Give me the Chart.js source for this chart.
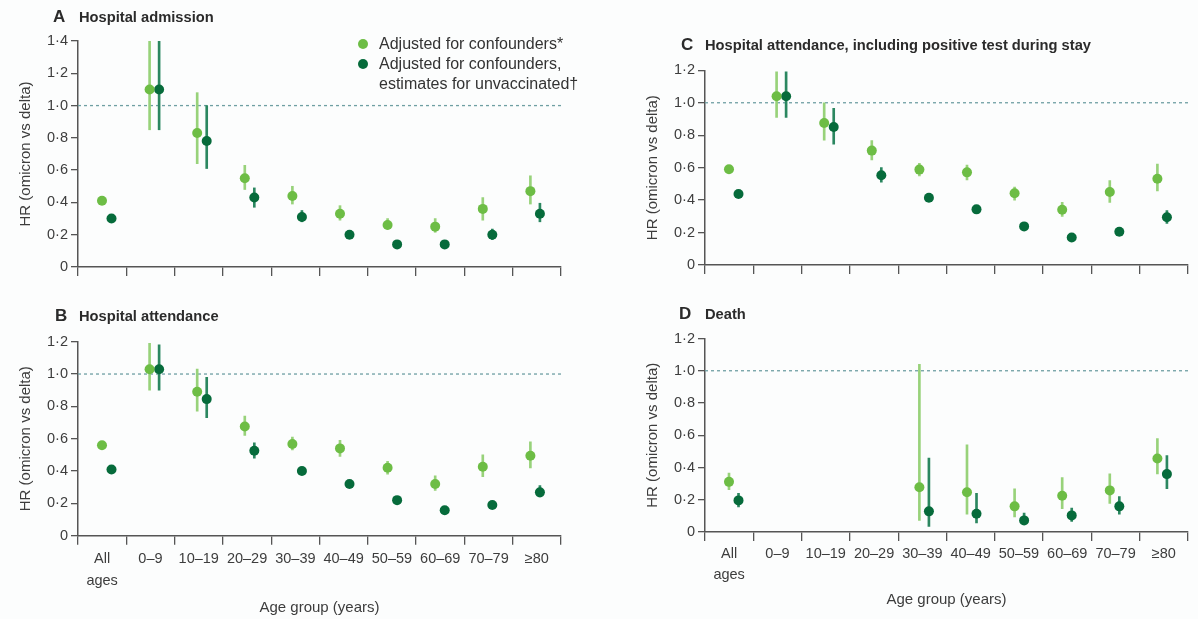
<!DOCTYPE html>
<html>
<head>
<meta charset="utf-8">
<script src="https://cdn.jsdelivr.net/npm/chart.js@4.4.1/dist/chart.umd.min.js"></script>
<style>
  body { margin:0; background:#fcfdfd; font-family:'Liberation Sans', Arial, sans-serif; color:#333; }
  #page { position:relative; width:1198px; height:619px; overflow:hidden; }
  canvas { position:absolute; }
  .txt { position:absolute; white-space:nowrap; line-height:1; }
  .letter { font-weight:bold; font-size:17px; color:#2b2b2b; }
  .title { font-weight:bold; font-size:14.7px; color:#2b2b2b; }
  .leg { font-size:16px; color:#333; }
  .dot { position:absolute; width:10px; height:10px; border-radius:50%; }
</style>
</head>
<body>
<div id="page">
  <canvas id="chartA" width="600" height="300" style="left:0;top:0"></canvas>
  <canvas id="chartB" width="600" height="319" style="left:0;top:300px"></canvas>
  <canvas id="chartC" width="571" height="300" style="left:627px;top:0"></canvas>
  <canvas id="chartD" width="571" height="319" style="left:627px;top:300px"></canvas>

  <div class="txt letter" style="left:53px;top:8.3px">A</div>
  <div class="txt title" style="left:79px;top:10.3px">Hospital admission</div>
  <div class="txt letter" style="left:55px;top:307.3px">B</div>
  <div class="txt title" style="left:79px;top:309.3px">Hospital attendance</div>
  <div class="txt letter" style="left:681px;top:36.1px">C</div>
  <div class="txt title" style="left:705px;top:38.1px">Hospital attendance, including positive test during stay</div>
  <div class="txt letter" style="left:679px;top:304.9px">D</div>
  <div class="txt title" style="left:705px;top:306.9px">Death</div>

  <div class="dot" style="left:358px;top:39.3px;background:#6dbd45"></div>
  <div class="txt leg" style="left:379px;top:35.5px">Adjusted for confounders*</div>
  <div class="dot" style="left:358px;top:59.3px;background:#066b3b"></div>
  <div class="txt leg" style="left:379px;top:55.5px">Adjusted for confounders,</div>
  <div class="txt leg" style="left:379px;top:75.5px">estimates for unvaccinated†</div>
</div>

<script>
// Age groups along the x axis
var ageGroups = [['All', 'ages'], '0–9', '10–19', '20–29', '30–39', '40–49', '50–59', '60–69', '70–79', '≥80'];

// A: hospital admission
var admissionAdj      = [0.41, 1.10, 0.83, 0.55, 0.44, 0.33, 0.26, 0.25, 0.36, 0.47];
var admissionAdjLow   = [0.40, 0.85, 0.64, 0.48, 0.39, 0.29, 0.235, 0.215, 0.29, 0.39];
var admissionAdjHigh  = [0.42, 1.43, 1.08, 0.63, 0.50, 0.38, 0.30, 0.30, 0.43, 0.565];
var admissionUnv      = [0.30, 1.10, 0.78, 0.43, 0.31, 0.20, 0.14, 0.14, 0.20, 0.33];
var admissionUnvLow   = [0.29, 0.85, 0.61, 0.37, 0.28, 0.185, 0.125, 0.125, 0.17, 0.28];
var admissionUnvHigh  = [0.31, 1.45, 1.00, 0.49, 0.35, 0.215, 0.155, 0.155, 0.235, 0.395];

// B: hospital attendance
var attendAdj      = [0.56, 1.03, 0.89, 0.675, 0.567, 0.54, 0.42, 0.32, 0.427, 0.495];
var attendAdjLow   = [0.55, 0.90, 0.77, 0.62, 0.53, 0.49, 0.38, 0.28, 0.365, 0.42];
var attendAdjHigh  = [0.57, 1.19, 1.03, 0.74, 0.61, 0.59, 0.46, 0.37, 0.50, 0.58];
var attendUnv      = [0.41, 1.03, 0.845, 0.525, 0.40, 0.32, 0.22, 0.157, 0.19, 0.268];
var attendUnvLow   = [0.40, 0.90, 0.73, 0.48, 0.38, 0.305, 0.205, 0.145, 0.175, 0.24];
var attendUnvHigh  = [0.42, 1.18, 0.98, 0.575, 0.42, 0.335, 0.235, 0.17, 0.205, 0.31];

// C: hospital attendance, including positive test during stay
var stayAdj      = [0.59, 1.04, 0.875, 0.705, 0.588, 0.571, 0.442, 0.341, 0.45, 0.532];
var stayAdjLow   = [0.58, 0.91, 0.77, 0.647, 0.549, 0.524, 0.40, 0.30, 0.386, 0.456];
var stayAdjHigh  = [0.60, 1.19, 1.00, 0.767, 0.627, 0.616, 0.48, 0.386, 0.52, 0.622];
var stayUnv      = [0.438, 1.04, 0.85, 0.553, 0.415, 0.343, 0.238, 0.17, 0.205, 0.294];
var stayUnvLow   = [0.428, 0.91, 0.745, 0.51, 0.40, 0.33, 0.222, 0.158, 0.192, 0.257];
var stayUnvHigh  = [0.448, 1.19, 0.965, 0.60, 0.43, 0.356, 0.254, 0.182, 0.218, 0.335];

// D: death (no estimates for under 30s)
var deathAdj      = [0.311, null, null, null, 0.278, 0.247, 0.159, 0.225, 0.258, 0.456];
var deathAdjLow   = [0.262, null, null, null, 0.072, 0.111, 0.093, 0.144, 0.177, 0.36];
var deathAdjHigh  = [0.365, null, null, null, 1.04, 0.54, 0.268, 0.338, 0.36, 0.58];
var deathUnv      = [0.196, null, null, null, 0.128, 0.113, 0.072, 0.103, 0.159, 0.359];
var deathUnvLow   = [0.155, null, null, null, 0.035, 0.056, 0.045, 0.066, 0.111, 0.268];
var deathUnvHigh  = [0.24, null, null, null, 0.458, 0.24, 0.118, 0.148, 0.22, 0.474];

var LIGHT = '#6dbd45', DARK = '#066b3b';
var LIGHT_CI = '#98d27a', DARK_CI = '#2b8760';
var AXIS = '#555', TEXT = '#3d3d3d';

// hidden position axis, points sit a bit tighter than the category ticks
var X_MIN = -0.504, X_MAX = 9.643;
var UNV_SHIFT = 0.2;

// points for one series, skipping missing groups
function to_points(vals, shift){
  var out = [];
  vals.forEach(function(v, i){
    if (v !== null) out.push({x: i + shift, y: v});
  });
  return out;
}

// floating bars used as confidence intervals
function to_ranges(lo, hi, shift){
  var out = [];
  lo.forEach(function(v, i){
    if (v !== null) out.push({x: i + shift, y: [v, hi[i]]});
  });
  return out;
}

function fmt_tick(v){
  if (v === 0) return '0';
  return v.toFixed(1).replace('.', '·');
}

function draw_panel(cfg){
  var s = cfg.series;
  var datasets = [
    {type: 'scatter', data: to_points(s[0], 0), xAxisID: 'xl',
     pointRadius: 5, pointBackgroundColor: LIGHT, pointBorderColor: LIGHT, pointBorderWidth: 0, order: 0},
    {type: 'scatter', data: to_points(s[3], UNV_SHIFT), xAxisID: 'xl',
     pointRadius: 5, pointBackgroundColor: DARK, pointBorderColor: DARK, pointBorderWidth: 0, order: 0},
    {type: 'bar', data: to_ranges(s[1], s[2], 0), xAxisID: 'xl',
     backgroundColor: LIGHT_CI, barThickness: 2, grouped: false, borderWidth: 0, order: 1},
    {type: 'bar', data: to_ranges(s[4], s[5], UNV_SHIFT), xAxisID: 'xl',
     backgroundColor: DARK_CI, barThickness: 2, grouped: false, borderWidth: 0, order: 1},
    // reference line at HR = 1
    {type: 'line', data: [{x: X_MIN, y: 1}, {x: X_MAX, y: 1}], xAxisID: 'xl', showLine: true,
     borderColor: '#6f9fa3', borderWidth: 1.3, borderDash: [3, 3], pointRadius: 0, order: 2}
  ];

  new Chart(document.getElementById(cfg.id), {
    type: 'scatter',
    data: {labels: ageGroups, datasets: datasets},
    options: {
      responsive: false,
      animation: false,
      layout: {padding: {top: cfg.top, right: cfg.right, left: 0, bottom: 0}},
      plugins: {legend: {display: false}, tooltip: {enabled: false}},
      scales: {
        x: {
          type: 'category', labels: ageGroups, offset: true,
          grid: {offset: true, drawOnChartArea: false, tickLength: 9, color: AXIS, lineWidth: 1.3},
          border: {color: AXIS, width: 1.5},
          ticks: {display: cfg.labels, color: TEXT, font: {size: 14.5, lineHeight: 1.47},
                  padding: cfg.labelPad, maxRotation: 0, autoSkip: false},
          title: {display: cfg.labels, text: 'Age group (years)', color: TEXT, font: {size: 15},
                  padding: {top: 0, bottom: cfg.titlePad}},
          afterFit: function(sc){ sc.height = cfg.xHeight; }
        },
        // bars would pad this axis by default, keep it flush with the plot area
        xl: {type: 'linear', display: false, offset: false, min: X_MIN, max: X_MAX},
        y: {
          min: 0, max: cfg.yMax,
          ticks: {stepSize: 0.2, color: TEXT, font: {size: 14.5}, padding: 3, callback: fmt_tick},
          grid: {drawOnChartArea: false, tickLength: 7, color: AXIS, lineWidth: 1.3},
          border: {color: AXIS, width: 1.5},
          title: {display: true, text: 'HR (omicron vs delta)', color: TEXT, font: {size: 15},
                  padding: {top: 17, bottom: 0}},
          afterFit: function(sc){ sc.width = 78; }
        }
      }
    }
  });
}

draw_panel({id: 'chartA', yMax: 1.4, top: 41, right: 39, xHeight: 33, labels: false, labelPad: 4, titlePad: 0,
  series: [admissionAdj, admissionAdjLow, admissionAdjHigh, admissionUnv, admissionUnvLow, admissionUnvHigh]});
draw_panel({id: 'chartB', yMax: 1.2, top: 41.7, right: 39, xHeight: 83.3, labels: true, labelPad: 4, titlePad: 1.7,
  series: [attendAdj, attendAdjLow, attendAdjHigh, attendUnv, attendUnvLow, attendUnvHigh]});
draw_panel({id: 'chartC', yMax: 1.2, top: 70.3, right: 10, xHeight: 35, labels: false, labelPad: 4, titlePad: 0,
  series: [stayAdj, stayAdjLow, stayAdjHigh, stayUnv, stayUnvLow, stayUnvHigh]});
draw_panel({id: 'chartD', yMax: 1.2, top: 38.5, right: 10, xHeight: 87, labels: true, labelPad: 2, titlePad: 10,
  series: [deathAdj, deathAdjLow, deathAdjHigh, deathUnv, deathUnvLow, deathUnvHigh]});
</script>
</body>
</html>
